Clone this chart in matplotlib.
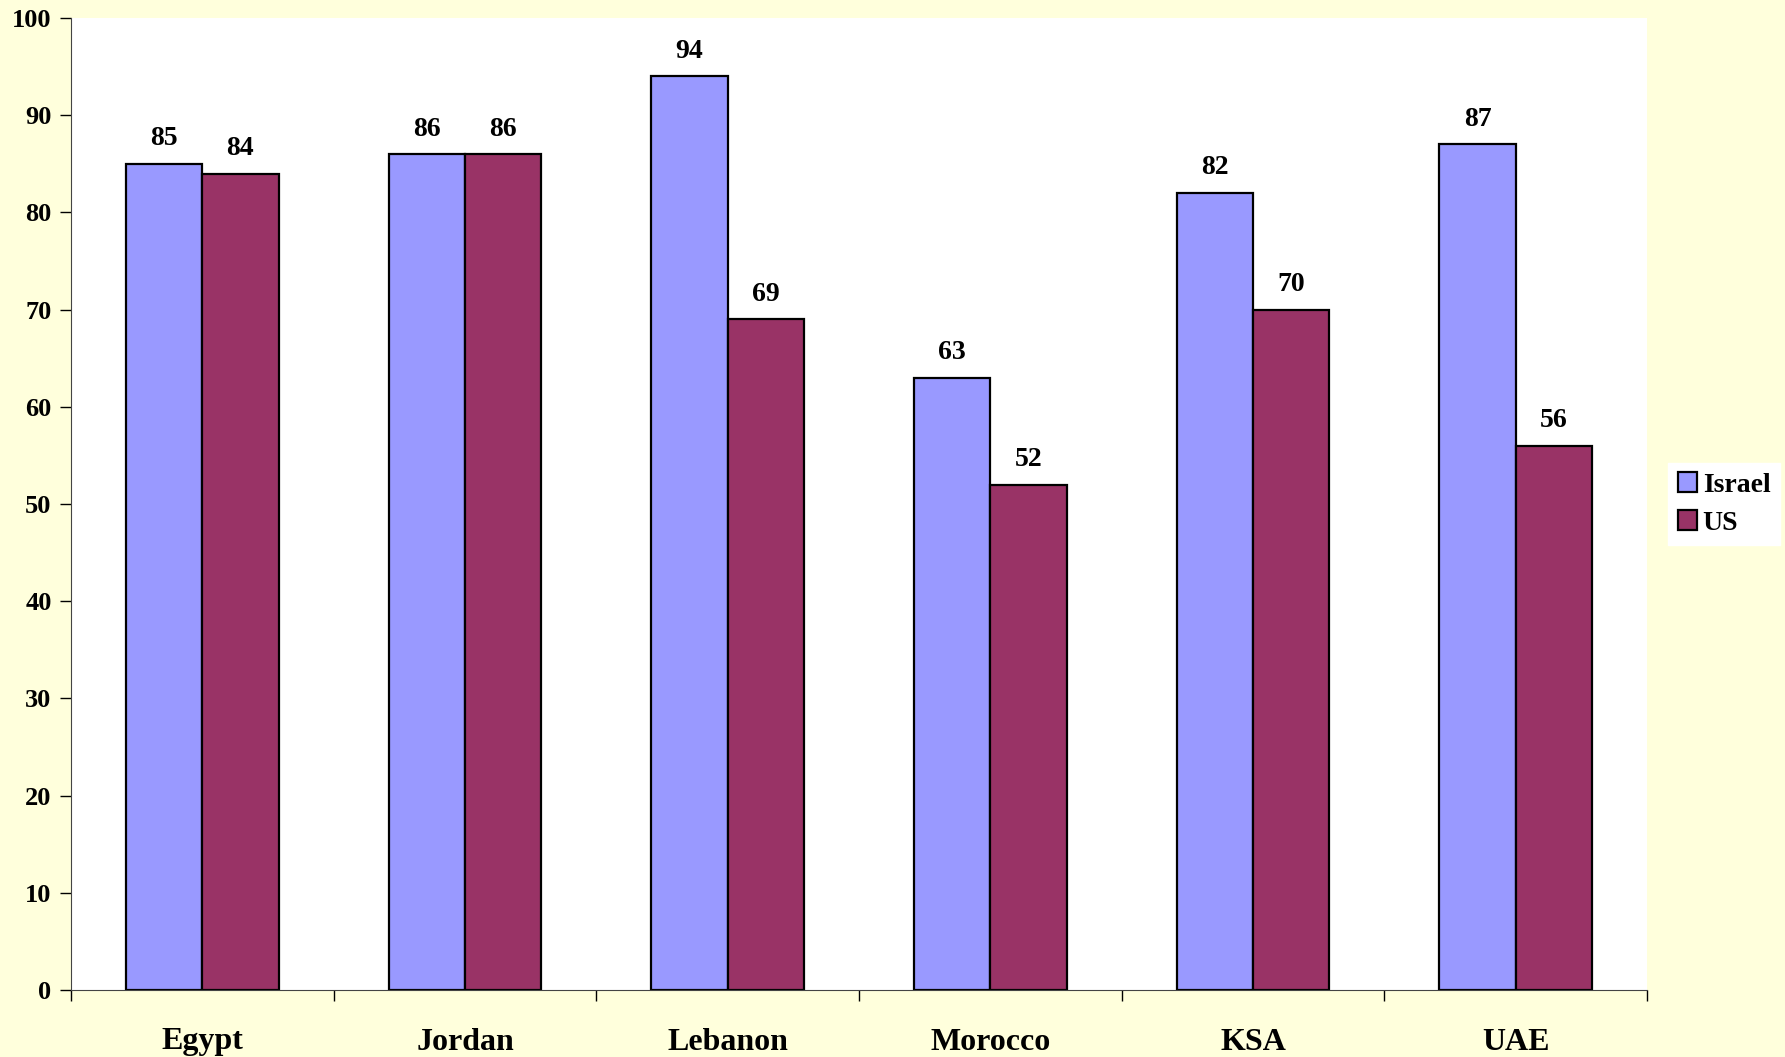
import numpy as np
import matplotlib
matplotlib.use("Agg")
import matplotlib.pyplot as plt

countries = ["Egypt", "Jordan", "Lebanon", "Morocco", "KSA", "UAE"]
israel = [85, 86, 94, 63, 82, 87]
us = [84, 86, 69, 52, 70, 56]

plt.rcParams['font.family'] = ['Liberation Serif', 'DejaVu Serif']
plt.rcParams['font.weight'] = 'bold'

bg = '#FFFFDC'
fig = plt.figure(figsize=(17.85, 10.57), dpi=100, facecolor=bg)
ax = fig.add_axes([71/1785, 1 - 990/1057, (1647-71)/1785, (990-18)/1057])
ax.set_facecolor('white')

x = np.arange(len(countries))
w = 0.29
b1 = ax.bar(x - w/2, israel, w, color='#9999FF', edgecolor='black', linewidth=1.6, label='Israel')
b2 = ax.bar(x + w/2, us, w, color='#993366', edgecolor='black', linewidth=1.6, label='US')

for bars, vals in [(b1, israel), (b2, us)]:
    for r, v in zip(bars, vals):
        ax.annotate(str(v), (r.get_x() + r.get_width()/2, v), xytext=(0, 9),
                    textcoords='offset points', ha='center', va='bottom',
                    fontsize=20, fontweight='bold')

ax.set_xlim(-0.5, len(countries) - 0.5)
ax.set_ylim(0, 100)
ax.set_yticks(range(0, 101, 10))
ax.tick_params(axis='y', labelsize=19, length=8, width=1, direction='out', pad=6)
ax.set_xticks(np.arange(-0.5, len(countries), 1))
ax.set_xticklabels([])
ax.set_xticks(x, minor=True)
ax.set_xticklabels(countries, minor=True, fontsize=23, fontweight='bold')
ax.tick_params(axis='x', which='major', length=8, width=1, direction='out')
ax.tick_params(axis='x', which='minor', length=0, pad=27)
for lab in ax.get_yticklabels():
    lab.set_fontweight('bold')

for s in ['top', 'right']:
    ax.spines[s].set_visible(False)
ax.spines['left'].set_color('#444444')
ax.spines['bottom'].set_color('#444444')

leg = ax.legend(loc='center left', bbox_to_anchor=(1668/1785, 1 - 504/1057),
                bbox_transform=fig.transFigure, frameon=True, fancybox=False,
                edgecolor='white', facecolor='white', framealpha=1,
                prop={'size': 20, 'weight': 'bold'}, handlelength=0.7,
                handleheight=0.7, handletextpad=0.2, borderpad=0.35,
                labelspacing=0.45, borderaxespad=0)

fig.savefig('out.png', dpi=100, facecolor=bg)
